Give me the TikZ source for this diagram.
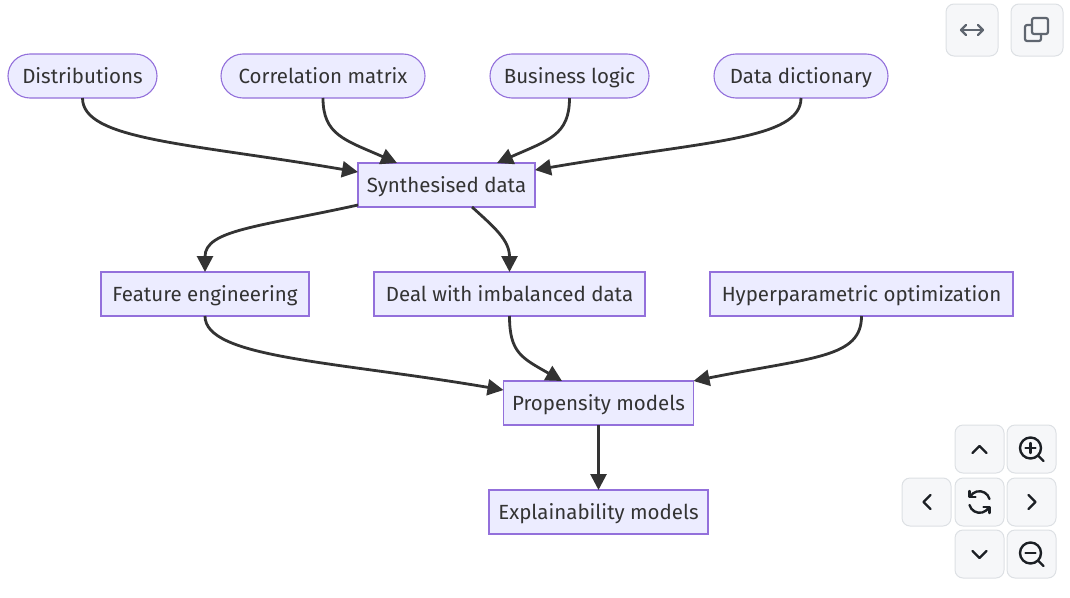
\documentclass[tikz,border=0pt]{standalone}
\usepackage{xcolor}
\usepackage{fontspec}
\setmainfont{Fira Sans}
\usetikzlibrary{shapes.misc, arrows.meta, positioning, calc}
\definecolor{flowfill}{HTML}{ECECFF}
\definecolor{flowline}{HTML}{9370DB}
\definecolor{flowtext}{HTML}{333333}
\definecolor{btnbg}{HTML}{F6F7F9}
\definecolor{btnline}{HTML}{DDE0E4}
\definecolor{icongray}{HTML}{5F6670}
\definecolor{iconblack}{HTML}{1B1F24}
\tikzset{
  source/.style={rounded rectangle, draw=flowline, line width=1.1pt, fill=flowfill,
    text=flowtext, font=\fontsize{20.5}{24}\selectfont, inner sep=0pt, outer sep=0pt,
    text height=17pt, text depth=3pt, minimum height=44pt},
  stepbox/.style={rectangle, draw=flowline, line width=1.1pt, fill=flowfill,
    text=flowtext, font=\fontsize{20.5}{24}\selectfont, inner sep=0pt, outer sep=0pt,
    text height=17pt, text depth=3pt, minimum height=44pt},
  ar/.style={-{Triangle[length=16pt,width=16pt]}, line width=2.8pt, flowtext},
  toolbtn/.style={rectangle, rounded corners=8pt, draw=btnline, line width=1pt,
    fill=btnbg, inner sep=0pt, minimum width=52pt, minimum height=52pt},
  navbtn/.style={toolbtn, minimum width=49pt, minimum height=48pt},
  icon/.style={draw=iconblack, line width=2.4pt, line cap=round, line join=round},
  grayicon/.style={draw=icongray, line width=2.2pt, line cap=round, line join=round},
}
\begin{document}
\begin{tikzpicture}[x=1pt, y=1pt]
  \useasboundingbox (0,0) rectangle (1070,-597);

  \node[source, minimum width=149pt] (dist) at (82.5,-76) {Distributions};
  \node[source, minimum width=204pt, right=64pt of dist] (corr) {Correlation matrix};
  \node[source, minimum width=159pt, right=65pt of corr] (logic) {Business logic};
  \node[source, minimum width=174pt, right=65pt of logic] (dict) {Data dictionary};

  \node[stepbox, minimum width=177pt] (synth) at (446.5,-185) {Synthesised data};

  \node[stepbox, minimum width=208pt] (feat) at (205,-294) {Feature engineering};
  \node[stepbox, minimum width=271pt, right=65pt of feat] (imbal) {Deal with imbalanced data};
  \node[stepbox, minimum width=303pt, right=65pt of imbal] (hyper) {Hyperparametric optimization};

  \node[stepbox, minimum width=190pt] (prop) at (598.5,-403) {Propensity models};
  \node[stepbox, minimum width=219pt, below=65pt of prop] (expl) {Explainability models};

  \draw[ar] (dist.south) .. controls +(0,-42) and +(-170,29) .. (synth.west |- 0,-172);
  \draw[ar] (corr.south) .. controls +(0,-37) and +(-52,23) .. (synth.north -| 397,0);
  \draw[ar] (logic.south) .. controls +(0,-37) and +(52,23) .. (synth.north -| 497,0);
  \draw[ar] (dict.south) .. controls +(0,-42) and +(170,29) .. (synth.east |- 0,-170);
  \draw[ar] (synth.west |- 0,-205) .. controls +(-100,-22) and +(0,42) .. (feat.north);
  \draw[ar] (synth.south -| 472,0) .. controls +(22,-20) and +(0,32) .. (imbal.north);
  \draw[ar] (feat.south) .. controls +(0,-42) and +(-170,29) .. (prop.west |- 0,-390);
  \draw[ar] (imbal.south) .. controls +(0,-37) and +(-40,23) .. (prop.north -| 562,0);
  \draw[ar] (hyper.south) .. controls +(0,-42) and +(120,24) .. (prop.east |- 0,-381);
  \draw[ar] (prop) -- (expl);

  % top buttons
  \node[toolbtn] (widen) at (972,-30) {};
  \node[toolbtn] (copy) at (1037,-30) {};
  \draw[grayicon] ([xshift=-11pt]widen.center) -- ([xshift=11pt]widen.center);
  \draw[grayicon] ([shift={(-6pt,5pt)}]widen.center) -- ([xshift=-11pt]widen.center) -- ([shift={(-6pt,-5pt)}]widen.center);
  \draw[grayicon] ([shift={(6pt,5pt)}]widen.center) -- ([xshift=11pt]widen.center) -- ([shift={(6pt,-5pt)}]widen.center);
  \draw[grayicon, rounded corners=2pt] ([shift={(-5pt,-4pt)}]copy.center) rectangle ([shift={(11pt,12pt)}]copy.center);
  \draw[grayicon, rounded corners=2pt] ([shift={(-5pt,5pt)}]copy.center) -- ([shift={(-12pt,5pt)}]copy.center)
    -- ([shift={(-12pt,-11pt)}]copy.center) -- ([shift={(4pt,-11pt)}]copy.center) -- ([shift={(4pt,-4pt)}]copy.center);

  % navigation buttons
  \node[navbtn] (up) at (979.5,-449) {};
  \node[navbtn] (zoomin) at (1031.5,-449) {};
  \node[navbtn] (left) at (926.5,-502) {};
  \node[navbtn] (reset) at (979.5,-502) {};
  \node[navbtn] (right) at (1031.5,-502) {};
  \node[navbtn] (down) at (979.5,-554) {};
  \node[navbtn] (zoomout) at (1031.5,-554) {};
  \draw[icon] ([shift={(-7pt,-4pt)}]up.center) -- ([shift={(0pt,3pt)}]up.center) -- ([shift={(7pt,-4pt)}]up.center);
  \draw[icon] ([shift={(-7pt,3pt)}]down.center) -- ([shift={(0pt,-4pt)}]down.center) -- ([shift={(7pt,3pt)}]down.center);
  \draw[icon] ([shift={(4pt,7pt)}]left.center) -- ([shift={(-3pt,0pt)}]left.center) -- ([shift={(4pt,-7pt)}]left.center);
  \draw[icon] ([shift={(-3pt,7pt)}]right.center) -- ([shift={(4pt,0pt)}]right.center) -- ([shift={(-3pt,-7pt)}]right.center);
  \draw[icon] ([shift={(-1pt,1pt)}]zoomin.center) circle (10.5pt);
  \draw[icon] ([shift={(7pt,-7pt)}]zoomin.center) -- ([shift={(12pt,-12pt)}]zoomin.center);
  \draw[icon] ([shift={(-6pt,1pt)}]zoomin.center) -- ([shift={(4pt,1pt)}]zoomin.center);
  \draw[icon] ([shift={(-1pt,6pt)}]zoomin.center) -- ([shift={(-1pt,-4pt)}]zoomin.center);
  \draw[icon] ([shift={(-1pt,1pt)}]zoomout.center) circle (10.5pt);
  \draw[icon] ([shift={(7pt,-7pt)}]zoomout.center) -- ([shift={(12pt,-12pt)}]zoomout.center);
  \draw[icon] ([shift={(-6pt,1pt)}]zoomout.center) -- ([shift={(4pt,1pt)}]zoomout.center);
  \draw[icon] ([shift={(10pt,3pt)}]reset.center) arc (15:150:10.5pt);
  \draw[icon] ([shift={(-10pt,-3pt)}]reset.center) arc (195:330:10.5pt);
  \draw[icon] ([shift={(-10pt,11pt)}]reset.center) -- ([shift={(-10pt,5pt)}]reset.center) -- ([shift={(-4pt,5pt)}]reset.center);
  \draw[icon] ([shift={(10pt,-11pt)}]reset.center) -- ([shift={(10pt,-5pt)}]reset.center) -- ([shift={(4pt,-5pt)}]reset.center);
\end{tikzpicture}
\end{document}
